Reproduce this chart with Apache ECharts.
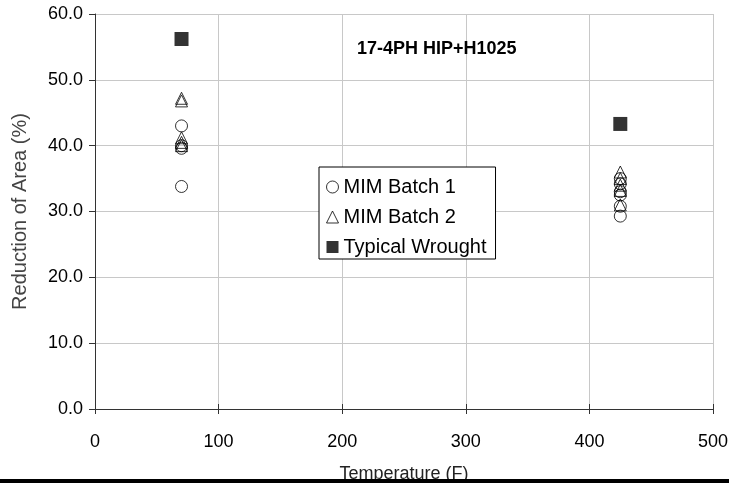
<!DOCTYPE html>
<html>
<head>
<meta charset="utf-8">
<script src="https://cdn.jsdelivr.net/npm/echarts@6/dist/echarts.min.js"></script>
<style>html,body{margin:0;padding:0;background:#fff;}#c{width:729px;height:483px;}</style>
</head>
<body>
<div id="c"></div>
<script>
const chartTitle = "17-4PH HIP+H1025";
const xName = "Temperature (F)";
const yName = "Reduction of Area (%)";
const seriesNames = ["MIM Batch 1", "MIM Batch 2", "Typical Wrought"];
const batch1 = [[70, 43.0], [70, 40.0], [70, 39.6], [70, 33.8],
  [425, 35.0], [425, 34.2], [425, 33.0], [425, 32.5], [425, 30.8], [425, 29.3]];
const batch2 = [[70, 47.2], [70, 46.8], [70, 41.2], [70, 40.5], [70, 40.0],
  [425, 36.0], [425, 35.0], [425, 34.0], [425, 33.2], [425, 31.0]];
const wrought = [[70, 56.2], [425, 43.3]];

const font = "Liberation Sans, Arial, sans-serif";
const chart = echarts.init(document.getElementById('c'), null, {renderer: 'canvas'});
chart.setOption({
  animation: false,
  backgroundColor: '#fff',
  grid: {left: 95, right: 16, top: 14, bottom: 74, containLabel: false, outerBoundsMode: 'none'},
  title: {
    text: chartTitle, left: 352, top: 35,
    textStyle: {fontFamily: font, fontSize: 18, fontWeight: 'bold', color: '#000'}
  },
  legend: {
    orient: 'vertical', left: 319, top: 167,
    padding: [9, 9, 1, 7], itemGap: 8, itemWidth: 12, itemHeight: 12,
    borderColor: '#000', borderWidth: 1, backgroundColor: '#fff',
    textStyle: {fontFamily: font, fontSize: 20, lineHeight: 22, color: '#000'},
    data: [
      {name: seriesNames[0], icon: 'circle', itemStyle: {color: '#fff', borderColor: '#000', borderWidth: 1}},
      {name: seriesNames[1], icon: 'triangle', itemStyle: {color: '#fff', borderColor: '#000', borderWidth: 1}},
      {name: seriesNames[2], icon: 'rect', itemStyle: {color: '#000'}}
    ]
  },
  xAxis: [{
    type: 'value', min: 0, max: 500, interval: 100,
    name: xName, nameLocation: 'middle', nameGap: 56,
    nameTextStyle: {fontFamily: font, fontSize: 18, color: '#222'},
    axisLine: {lineStyle: {color: '#333', width: 1}},
    axisTick: {length: 5, lineStyle: {color: '#333'}},
    axisLabel: {fontFamily: font, fontSize: 18, color: '#000', margin: 24},
    splitLine: {lineStyle: {color: '#c8c8c8'}}
  }, {
    type: 'value', min: 0, max: 500, interval: 100, position: 'bottom',
    axisLine: {show: false}, axisLabel: {show: false}, splitLine: {show: false},
    axisTick: {inside: true, length: 5, lineStyle: {color: '#333'}}
  }],
  yAxis: {
    type: 'value', min: 0, max: 60, interval: 10,
    name: yName, nameLocation: 'middle', nameGap: 65,
    nameTextStyle: {fontFamily: font, fontSize: 20, color: '#444'},
    axisLine: {show: true, lineStyle: {color: '#333'}},
    axisTick: {show: true, length: 6, lineStyle: {color: '#333'}},
    axisLabel: {fontFamily: font, fontSize: 18, color: '#000', margin: 12,
      formatter: v => v.toFixed(1)},
    splitLine: {lineStyle: {color: '#c8c8c8'}}
  },
  series: [
    {name: seriesNames[0], type: 'scatter', data: batch1, symbol: 'circle', symbolSize: 12,
      itemStyle: {color: 'rgba(255,255,255,0)', borderColor: '#000', borderWidth: 1}},
    {name: seriesNames[1], type: 'scatter', data: batch2, symbol: 'triangle', symbolSize: 12,
      itemStyle: {color: 'rgba(255,255,255,0)', borderColor: '#000', borderWidth: 1}},
    {name: seriesNames[2], type: 'scatter', data: wrought, symbol: 'rect', symbolSize: 14,
      itemStyle: {color: '#000'}}
  ],
  graphic: [{
    type: 'rect', left: 0, top: 479, z: 100,
    shape: {width: 729, height: 4}, style: {fill: '#000'}
  }]
});
</script>
</body>
</html>
